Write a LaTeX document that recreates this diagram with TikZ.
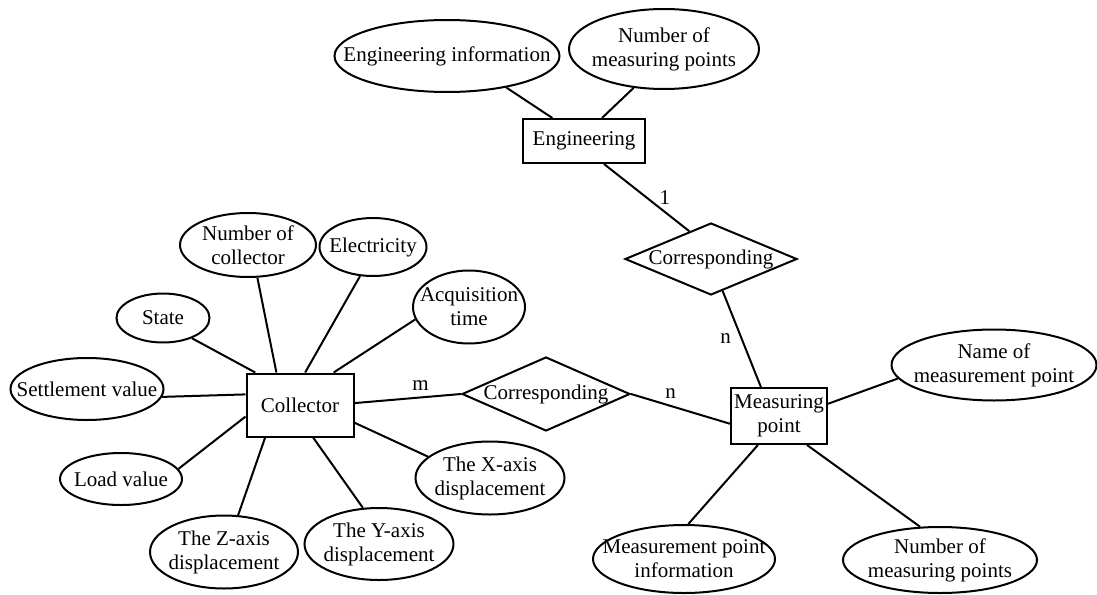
\documentclass[tikz,border=0pt]{standalone}
\usepackage{fontspec}
\setmainfont{Liberation Serif}
\usetikzlibrary{shapes.geometric}
\begin{document}
\begin{tikzpicture}[x=1pt,y=-1pt,
  every node/.style={font=\fontsize{21}{24}\selectfont},
  every label/.style={align=center,font=\fontsize{21}{24}\selectfont},
  ent/.style={draw,line width=2pt,rectangle,inner sep=0pt},
  attr/.style={draw,line width=2pt,ellipse,inner sep=0pt},
  rel/.style={draw,line width=2pt,diamond,inner sep=0pt},
  conn/.style={line width=2pt},
  card/.style={inner sep=0pt}]
\useasboundingbox (0,0) rectangle (1097,594);
% entities
\node[ent,minimum width=107pt,minimum height=63pt,label=center:{Collector}] (coll) at (300,405) {};
\node[ent,minimum width=122pt,minimum height=44pt,label=center:{Engineering}] (eng) at (584,141) {};
\node[ent,minimum width=96pt,minimum height=56pt,label={center:{Measuring\\point}}] (mp) at (779,416) {};
% relationships
\node[rel,minimum width=172pt,minimum height=72pt,label=center:{Corresponding}] (r1) at (711,259) {};
\node[rel,minimum width=168pt,minimum height=74pt,label=center:{Corresponding}] (r2) at (546,394) {};
% attributes of Engineering
\node[attr,minimum width=225pt,minimum height=72pt,label=center:{Engineering information}] (ei) at (447,56) {};
\node[attr,minimum width=190pt,minimum height=80pt,label={center:{Number of\\measuring points}}] (nmp1) at (664,49) {};
% attributes of Collector
\node[attr,minimum width=136pt,minimum height=64pt,label={center:{Number of\\collector}}] (noc) at (248,245) {};
\node[attr,minimum width=107pt,minimum height=58pt,label=center:{Electricity}] (elec) at (373,247) {};
\node[attr,minimum width=112pt,minimum height=73pt,label={center:{Acquisition\\time}}] (acq) at (469,307) {};
\node[attr,minimum width=93pt,minimum height=49pt,label=center:{State}] (st) at (163,318) {};
\node[attr,minimum width=153pt,minimum height=62pt,label=center:{Settlement value}] (sv) at (87,389) {};
\node[attr,minimum width=122pt,minimum height=52pt,label=center:{Load value}] (lv) at (121,479) {};
\node[attr,minimum width=148pt,minimum height=73pt,label={center:{The Z-axis\\displacement}}] (za) at (224,552) {};
\node[attr,minimum width=149pt,minimum height=72pt,label={center:{The Y-axis\\displacement}}] (ya) at (379,544) {};
\node[attr,minimum width=149pt,minimum height=73pt,label={center:{The X-axis\\displacement}}] (xa) at (490,478) {};
% attributes of Measuring point
\node[attr,minimum width=205pt,minimum height=71pt,label={center:{Name of\\measurement point}}] (nm) at (994,365) {};
\node[attr,minimum width=182pt,minimum height=68pt,label={center:{Measurement point\\information}}] (mpi) at (684,559) {};
\node[attr,minimum width=194pt,minimum height=66pt,label={center:{Number of\\measuring points}}] (nmp2) at (940,560) {};
% connectors
\draw[conn] (ei.-28.9) -- (eng.144.3);
\draw[conn] (nmp1.232) -- (eng.52);
\draw[conn] (eng.-49) -- (r1.128) node[card,pos=0.5,right=12pt] (c1) {1};
\draw[conn] (r1.-70) -- (mp.122.7) node[card,pos=0.5,left=10pt] (c2) {n};
\draw[conn] (coll.2) -- (r2.west) node[card,pos=0.62,above=6pt] (c3) {m};
\draw[conn] (r2.east) -- (mp.189.5) node[card,pos=0.4,above=6pt] (c4) {n};
\draw[conn] (st.-35) -- (coll.144.6);
\draw[conn] (noc.-74.3) -- (coll.126.9);
\draw[conn] (elec.246.6) -- (coll.81);
\draw[conn] (acq.193.5) -- (coll.44);
\draw[conn] (sv.-6) -- (coll.169);
\draw[conn] (lv.10.6) -- (coll.192.8);
\draw[conn] (za.69.3) -- (coll.223.2);
\draw[conn] (ya.114) -- (coll.-68.8);
\draw[conn] (xa.161.3) -- (coll.-18.4);
\draw[conn] (mp.14.9) -- (nm.188.3);
\draw[conn] (mp.234) -- (mpi.83.3);
\draw[conn] (mp.-46) -- (nmp2.121);
\end{tikzpicture}
\end{document}
